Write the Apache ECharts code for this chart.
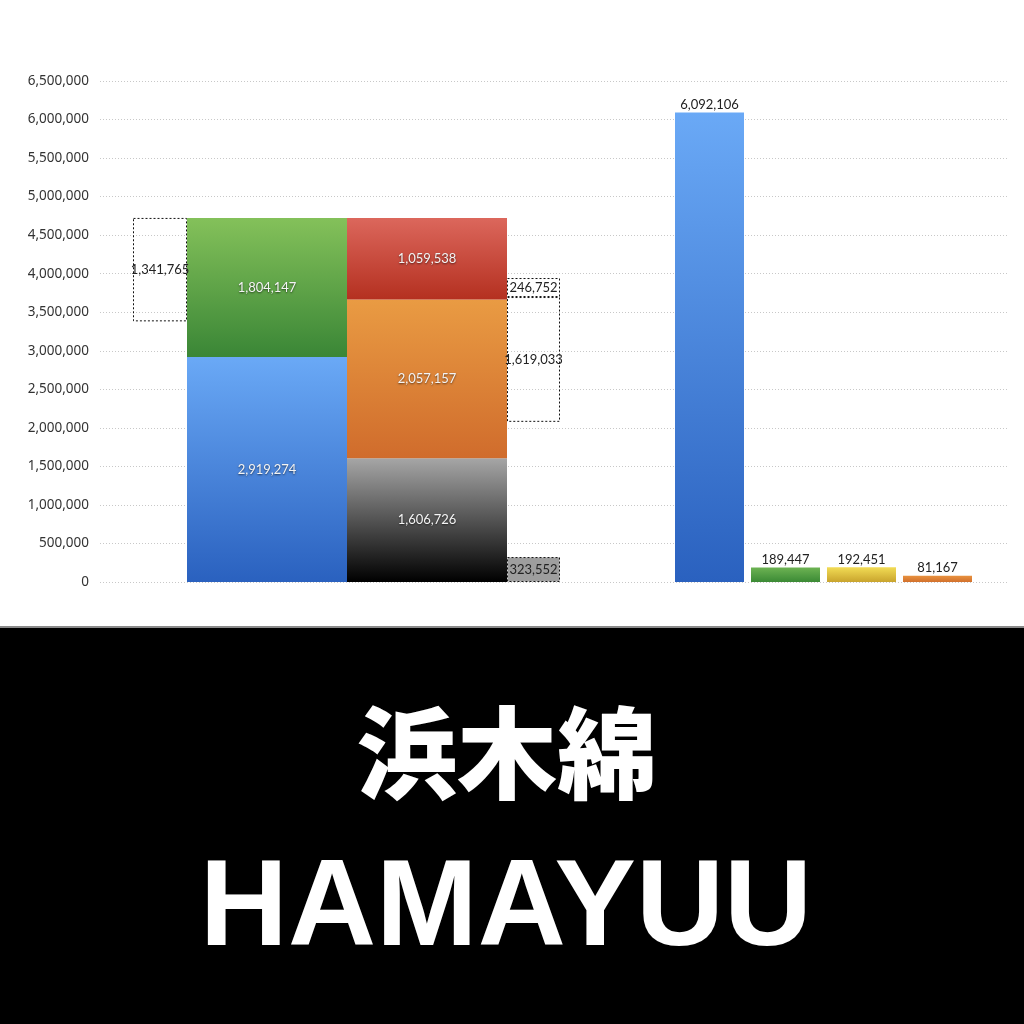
<!DOCTYPE html>
<html lang="ja">
<head>
    <meta charset="UTF-8">
    <title>浜木綿 HAMAYUU</title>
    <script src="https://cdn.jsdelivr.net/npm/echarts@6/dist/echarts.min.js"></script>
    <style type="text/css">
        html, body { margin: 0; padding: 0; background: #fff; }
        #chart { width: 1024px; height: 1024px; }
    </style>
</head>
<body>
<div id="chart"></div>

<script>
    // 値 (px に依存しないデータ)
    var yTicks = [0, 500000, 1000000, 1500000, 2000000, 2500000, 3000000, 3500000, 4000000, 4500000, 5000000, 5500000, 6000000, 6500000];
    var leftStackValues = [2919274, 1804147];           // 青, 緑
    var midStackValues = [1606726, 2057157, 1059538];   // 黒, 橙, 赤
    var leftFloatValue = 1341765;                       // 点線ボックス (上端を合計に揃える)
    var rightFloatValues = [323552, 1619033, 246752];   // 点線ボックス
    var rightFloatBases = [0, 2078000];                 // 点線ボックスの下端 (目測)
    var rightBarValues = [6092106, 189447, 192451, 81167];

    // 列の横位置 (x 軸の単位)
    var colLeftFloat = [33, 87];
    var colLeft = [87, 247];
    var colMid = [247, 407];
    var colRightFloat = [407, 460];
    var colRightBars = [[575, 644], [651, 720], [727, 796], [803, 872]];

    var grads = {
        blue: ['#6aa9f6', '#2a61bf'],
        green: ['#84c15a', '#3a8636'],
        red: ['#dc675c', '#b43020'],
        orange: ['#e99b43', '#d06c2c'],
        black: ['#a6a6a6', '#000000'],
        green2: ['#6db353', '#3b8a35'],
        yellow: ['#f2dc55', '#c9a42d'],
        orange2: ['#e8923f', '#d2702c']
    };

    var items = [];
    function stack(col, values, colors) {
        var base = 0;
        values.forEach(function (v, i) {
            items.push({ x: col, y0: base, y1: base + v, text: v, kind: 'solid', color: colors[i] });
            base += v;
        });
        return base;
    }
    var leftTotal = stack(colLeft, leftStackValues, ['blue', 'green']);
    stack(colMid, midStackValues, ['black', 'orange', 'red']);

    items.push({ x: colLeftFloat, y0: leftTotal - leftFloatValue, y1: leftTotal, text: leftFloatValue, kind: 'dash' });
    items.push({ x: colRightFloat, y0: rightFloatBases[0], y1: rightFloatValues[0], text: rightFloatValues[0], kind: 'dashFill' });
    items.push({ x: colRightFloat, y0: rightFloatBases[1], y1: rightFloatBases[1] + rightFloatValues[1], text: rightFloatValues[1], kind: 'dash' });
    items.push({ x: colRightFloat, y0: rightFloatBases[1] + rightFloatValues[1], y1: rightFloatBases[1] + rightFloatValues[1] + rightFloatValues[2], text: rightFloatValues[2], kind: 'dash' });

    var rightColors = ['blue', 'green2', 'yellow', 'orange2'];
    rightBarValues.forEach(function (v, i) {
        items.push({ x: colRightBars[i], y0: 0, y1: v, text: v, kind: 'top', color: rightColors[i] });
    });

    var data = items.map(function (it, i) {
        return [it.x[0], it.x[1], it.y0, it.y1, i];
    });

    function fmt(n) {
        return n.toString().replace(/\B(?=(\d{3})+(?!\d))/g, ',');
    }

    var chart = echarts.init(document.getElementById('chart'));

    var option = {
        backgroundColor: '#fff',
        animation: false,
        grid: { left: 100, right: 17, top: 81, bottom: 442 },
        xAxis: {
            type: 'value', min: 0, max: 907,
            show: false
        },
        yAxis: {
            type: 'value', min: yTicks[0], max: yTicks[yTicks.length - 1], interval: 500000,
            axisLine: { show: false },
            axisTick: { show: false },
            axisLabel: {
                margin: 11,
                color: '#333',
                fontSize: 13.5,
                fontFamily: '"Noto Sans", sans-serif',
                formatter: function (v) { return fmt(v); }
            },
            splitLine: { lineStyle: { color: '#c8c8c8', type: [1, 2], width: 1 } }
        },
        series: [{
            type: 'custom',
            data: data,
            clip: false,
            renderItem: function (params, api) {
                var it = items[api.value(4)];
                var p0 = api.coord([api.value(0), api.value(3)]);
                var p1 = api.coord([api.value(1), api.value(2)]);
                var x = p0[0], y = p0[1], w = p1[0] - p0[0], h = p1[1] - p0[1];
                var cx = x + w / 2, cy = y + h / 2;
                var children = [];
                var font = '13px Lato, "Noto Sans", sans-serif';
                if (it.kind === 'solid' || it.kind === 'top') {
                    var g = grads[it.color];
                    children.push({
                        type: 'rect',
                        shape: { x: x, y: y, width: w, height: h },
                        style: {
                            fill: new echarts.graphic.LinearGradient(0, 0, 0, 1, [
                                { offset: 0, color: g[0] }, { offset: 1, color: g[1] }
                            ])
                        }
                    });
                    if (it.kind === 'solid') {
                        children.push({
                            type: 'text',
                            style: {
                                text: fmt(it.text), x: cx, y: cy,
                                align: 'center', verticalAlign: 'middle',
                                fill: '#f4f4f4', font: font,
                                textShadowColor: 'rgba(0,0,0,0.6)', textShadowBlur: 2,
                                textShadowOffsetX: 0, textShadowOffsetY: 1
                            }
                        });
                    } else {
                        children.push({
                            type: 'text',
                            style: {
                                text: fmt(it.text), x: cx, y: y - 1,
                                align: 'center', verticalAlign: 'bottom',
                                fill: '#222', font: font
                            }
                        });
                    }
                } else {
                    children.push({
                        type: 'rect',
                        shape: { x: x + 0.5, y: y + 0.5, width: w - 1, height: h - 1 },
                        style: {
                            fill: it.kind === 'dashFill' ? '#9e9e9e' : 'rgba(255,255,255,0)',
                            stroke: '#111', lineWidth: 1, lineDash: [2, 2]
                        }
                    });
                    children.push({
                        type: 'text',
                        style: {
                            text: fmt(it.text), x: cx, y: cy,
                            align: 'center', verticalAlign: 'middle',
                            fill: '#222', font: font
                        }
                    });
                }
                return { type: 'group', children: children };
            }
        }],
        graphic: [
            { type: 'rect', left: 0, top: 626, shape: { width: 1024, height: 2 }, style: { fill: '#8a8a8a' } },
            { type: 'rect', left: 0, top: 628, shape: { width: 1024, height: 396 }, style: { fill: '#000' } },
            {
                type: 'text', x: 507, y: 753,
                style: {
                    text: '浜木綿', align: 'center', verticalAlign: 'middle',
                    fill: '#fff', font: '900 100px "Noto Sans CJK JP", sans-serif'
                }
            },
            {
                type: 'text', x: 506, y: 911,
                style: {
                    text: 'HAMAYUU', align: 'center', verticalAlign: 'middle',
                    fill: '#fff', font: 'bold 122px "Liberation Sans", Arial, sans-serif'
                }
            }
        ]
    };

    chart.setOption(option);
</script>
</body>
</html>
